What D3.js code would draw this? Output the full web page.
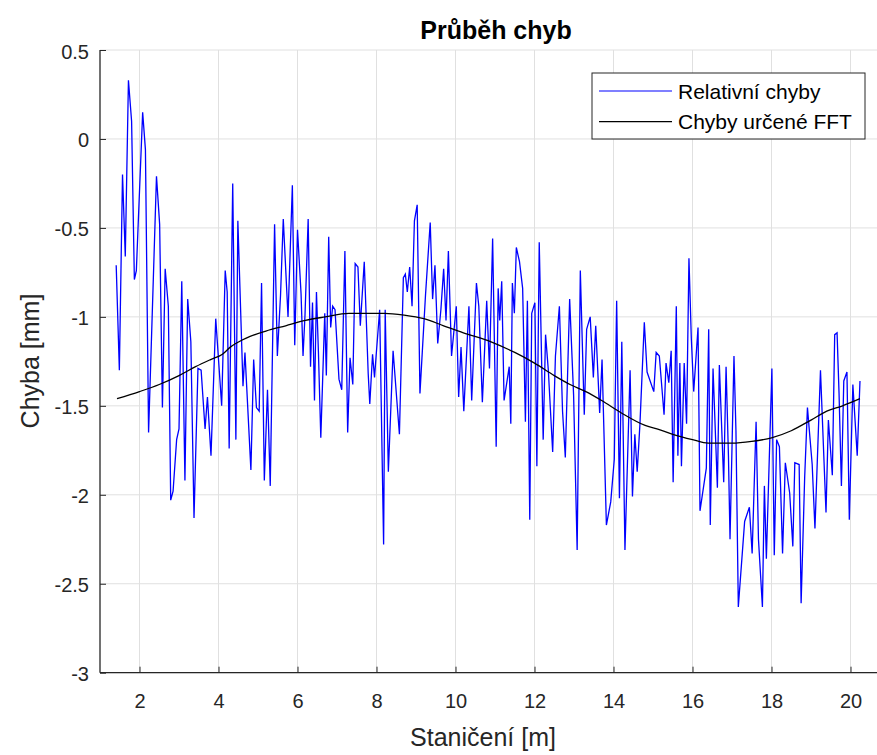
<!DOCTYPE html>
<html>
<head>
<meta charset="utf-8">
<script src="https://cdn.jsdelivr.net/npm/d3@7"></script>
<style>
  body { margin: 0; background: #fff; }
  text { font-family: "Liberation Sans", Arial, sans-serif; fill: #262626; }
</style>
</head>
<body>
<svg id="chart" width="877" height="755"></svg>
<script>
// relative errors (blue)
var relX = [1.41,1.49,1.57,1.64,1.72,1.80,1.87,1.92,2.08,2.15,2.23,2.43,2.51,2.58,2.65,2.73,2.79,2.85,2.94,3.00,
  3.07,3.15,3.22,3.30,3.38,3.48,3.56,3.66,3.72,3.81,3.93,4.08,4.17,4.22,4.27,4.36,4.44,4.49,4.62,4.67,
  4.82,4.89,4.96,5.03,5.09,5.16,5.24,5.31,5.42,5.49,5.57,5.64,5.76,5.87,5.93,6.00,6.09,6.14,6.19,6.27,
  6.33,6.38,6.43,6.48,6.53,6.59,6.69,6.73,6.79,6.84,6.89,6.95,7.05,7.12,7.20,7.27,7.33,7.40,7.46,7.53,
  7.59,7.69,7.79,7.83,7.90,7.95,7.99,8.08,8.18,8.22,8.30,8.42,8.58,8.68,8.73,8.78,8.84,8.90,8.96,9.03,
  9.10,9.24,9.36,9.42,9.48,9.55,9.63,9.70,9.76,9.82,9.90,10.02,10.08,10.14,10.21,10.34,10.41,10.53,10.59,10.68,
  10.79,10.86,10.94,11.03,11.08,11.12,11.17,11.23,11.36,11.40,11.44,11.49,11.54,11.62,11.70,11.77,11.82,11.88,11.93,12.01,
  12.06,12.12,12.22,12.28,12.35,12.46,12.53,12.63,12.71,12.78,12.89,12.99,13.08,13.16,13.26,13.32,13.41,13.49,13.55,13.65,
  13.71,13.82,13.93,14.02,14.08,14.15,14.21,14.29,14.42,14.48,14.54,14.60,14.67,14.78,14.85,15.02,15.08,15.16,15.28,15.33,
  15.40,15.46,15.51,15.59,15.63,15.68,15.72,15.79,15.85,15.91,15.97,16.03,16.14,16.19,16.35,16.41,16.45,16.52,16.63,16.68,
  16.79,16.85,16.91,16.95,17.05,17.10,17.16,17.32,17.44,17.51,17.61,17.67,17.77,17.82,17.87,18.01,18.07,18.13,18.20,18.28,18.35,
  18.46,18.54,18.59,18.70,18.75,18.84,18.91,19.03,19.10,19.24,19.38,19.44,19.54,19.60,19.66,19.71,19.77,19.83,19.91,19.97,
  20.06,20.17,20.24];
var relY = [-0.71,-1.30,-0.20,-0.66,0.33,0.10,-0.79,-0.74,0.15,-0.06,-1.65,-0.21,-0.48,-1.51,-0.73,-0.94,-2.03,-1.98,-1.69,-1.63,
  -0.80,-1.92,-0.90,-1.14,-2.13,-1.29,-1.30,-1.63,-1.45,-1.78,-1.01,-1.50,-0.74,-0.86,-1.74,-0.25,-1.69,-0.46,-1.39,-1.20,
  -1.86,-1.24,-1.51,-1.53,-0.81,-1.92,-1.41,-1.95,-0.48,-1.22,-0.88,-0.45,-1.00,-0.26,-1.16,-0.51,-0.87,-1.22,-0.99,-0.45,
  -1.28,-0.92,-1.47,-0.86,-1.20,-1.68,-0.98,-1.33,-0.55,-1.06,-0.94,-0.96,-1.35,-1.41,-0.63,-1.65,-1.23,-1.38,-0.70,-0.72,
  -1.05,-0.69,-1.32,-1.49,-1.21,-1.34,-1.22,-0.96,-2.28,-0.96,-1.87,-1.19,-1.66,-0.78,-0.76,-0.86,-0.72,-0.94,-0.46,-0.37,
  -1.43,-0.88,-0.47,-0.90,-0.71,-1.15,-0.96,-0.73,-1.02,-0.63,-1.22,-0.94,-1.45,-1.17,-1.53,-0.94,-1.47,-0.81,-0.94,-1.48,
  -0.91,-1.29,-0.56,-1.73,-0.84,-1.02,-0.80,-1.47,-1.28,-1.60,-0.81,-0.98,-0.61,-0.69,-0.84,-1.59,-0.91,-2.14,-0.98,-0.92,
  -1.84,-0.58,-1.69,-1.10,-1.30,-1.76,-1.22,-0.94,-1.53,-1.79,-0.90,-1.44,-2.31,-0.74,-1.55,-1.07,-1.00,-1.34,-1.05,-1.54,
  -1.24,-2.17,-2.04,-1.80,-0.91,-2.02,-1.14,-2.31,-1.30,-2.01,-1.66,-1.87,-1.60,-1.03,-1.31,-1.42,-1.20,-1.22,-1.55,-1.26,
  -1.37,-1.19,-1.93,-0.94,-1.78,-1.26,-1.84,-1.26,-1.60,-0.67,-1.12,-1.42,-1.06,-2.09,-1.85,-1.07,-2.17,-1.29,-1.96,-1.27,
  -1.93,-1.28,-1.78,-2.25,-1.22,-1.64,-2.63,-2.15,-2.07,-2.33,-1.59,-2.25,-2.63,-1.95,-2.36,-1.29,-2.34,-1.69,-1.73,-2.33,-1.82,
  -1.99,-2.29,-1.82,-1.83,-2.61,-1.90,-1.51,-1.83,-2.19,-1.30,-2.10,-1.58,-1.89,-1.10,-1.09,-1.43,-1.95,-1.36,-1.31,-2.14,
  -1.38,-1.78,-1.36];

// errors found by FFT (black)
var fftX = [1.43,2.0,2.5,3.0,3.42,3.8,4.1,4.3,4.6,4.8,5.2,5.7,6.2,6.7,7.3,7.85,8.2,8.7,9.2,9.7,
  10.2,10.9,11.5,12.0,12.5,12.9,13.3,13.7,14.2,14.8,15.1,15.5,16.0,16.4,17.0,17.5,18.0,18.5,19.0,19.4,
  19.8,20.24];
var fftY = [-1.46,-1.42,-1.38,-1.33,-1.28,-1.24,-1.21,-1.17,-1.13,-1.11,-1.08,-1.05,-1.02,-1.00,-0.98,-0.98,-0.98,-0.99,-1.01,-1.05,
  -1.09,-1.14,-1.20,-1.26,-1.33,-1.38,-1.42,-1.47,-1.54,-1.61,-1.63,-1.66,-1.69,-1.71,-1.71,-1.70,-1.68,-1.64,-1.58,-1.53,
  -1.50,-1.46];

var xTicks = [2, 4, 6, 8, 10, 12, 14, 16, 18, 20];
var yTicks = [0.5, 0, -0.5, -1, -1.5, -2, -2.5, -3];
var titleText = "Průběh chyb";
var xLabelText = "Staničení [m]";
var yLabelText = "Chyba [mm]";
var legendNames = ["Relativní chyby", "Chyby určené FFT"];
var legendColors = ["#0000ff", "#000000"];

var svg = d3.select("#chart");
var plotLeft = 100, plotRight = 890, plotTop = 50, plotBottom = 672.7;

var x = d3.scaleLinear().domain([1, 21]).range([plotLeft, plotRight]);
var y = d3.scaleLinear().domain([-3, 0.5]).range([plotBottom, plotTop]);

// grid
svg.append("g").selectAll("line").data(xTicks).enter().append("line")
  .attr("x1", function(d) { return x(d); }).attr("x2", function(d) { return x(d); })
  .attr("y1", plotTop).attr("y2", plotBottom)
  .attr("stroke", "#e0e0e0").attr("stroke-width", 1);
svg.append("g").selectAll("line").data(yTicks).enter().append("line")
  .attr("x1", plotLeft).attr("x2", plotRight)
  .attr("y1", function(d) { return y(d); }).attr("y2", function(d) { return y(d); })
  .attr("stroke", "#e0e0e0").attr("stroke-width", 1);

// axes (ticks pointing inward like matlab)
var xAxis = d3.axisTop(x).tickValues(xTicks).tickSize(6).tickFormat(d3.format("d"));
var gx = svg.append("g").attr("transform", "translate(0," + plotBottom + ")").call(xAxis);
gx.select(".domain").remove();
gx.selectAll(".tick line").attr("stroke", "#262626");
gx.selectAll(".tick text").attr("y", 35).attr("dy", 0).attr("font-size", 20)
  .attr("font-family", "Liberation Sans, Arial, sans-serif").attr("fill", "#262626");
gx.append("line").attr("x1", plotLeft).attr("x2", plotRight).attr("stroke", "#262626").attr("stroke-width", 1.3);

var yAxis = d3.axisRight(y).tickValues(yTicks).tickSize(6)
  .tickFormat(function(d) { return String(d); });
var gy = svg.append("g").attr("transform", "translate(" + plotLeft + ",0)").call(yAxis);
gy.select(".domain").remove();
gy.selectAll(".tick line").attr("stroke", "#262626");
gy.selectAll(".tick text").attr("x", -11).attr("text-anchor", "end").attr("dy", "0.4em").attr("font-size", 20)
  .attr("font-family", "Liberation Sans, Arial, sans-serif").attr("fill", "#262626");
gy.append("line").attr("y1", plotTop).attr("y2", plotBottom).attr("stroke", "#262626").attr("stroke-width", 1.3);

// lines
var line = d3.line()
  .x(function(d) { return x(d[0]); })
  .y(function(d) { return y(d[1]); });

svg.append("path")
  .datum(d3.zip(relX, relY))
  .attr("d", line)
  .attr("fill", "none")
  .attr("stroke", "#0000ff")
  .attr("stroke-width", 1.3);

svg.append("path")
  .datum(d3.zip(fftX, fftY))
  .attr("d", d3.line().curve(d3.curveMonotoneX)
    .x(function(d) { return x(d[0]); })
    .y(function(d) { return y(d[1]); }))
  .attr("fill", "none")
  .attr("stroke", "#000000")
  .attr("stroke-width", 1.3);

// title and labels
svg.append("text").attr("x", 496).attr("y", 39)
  .attr("text-anchor", "middle").attr("font-size", 25).attr("font-weight", "bold")
  .style("fill", "#000").text(titleText);
svg.append("text").attr("x", 483).attr("y", 746)
  .attr("text-anchor", "middle").attr("font-size", 25).text(xLabelText);
svg.append("text").attr("transform", "translate(39,361) rotate(-90)")
  .attr("text-anchor", "middle").attr("font-size", 25).text(yLabelText);

// legend
var lg = svg.append("g").attr("transform", "translate(592,73)");
lg.append("rect").attr("width", 273).attr("height", 66)
  .attr("fill", "#fff").attr("stroke", "#262626").attr("stroke-width", 1);
legendNames.forEach(function(name, i) {
  var ly = 18 + i * 30.7;
  lg.append("line").attr("x1", 7).attr("x2", 80).attr("y1", ly).attr("y2", ly)
    .attr("stroke", legendColors[i]).attr("stroke-width", 1.2);
  lg.append("text").attr("x", 86).attr("y", ly).attr("dy", "0.36em")
    .attr("font-size", 21).style("fill", "#000").text(name);
});
</script>
</body>
</html>
